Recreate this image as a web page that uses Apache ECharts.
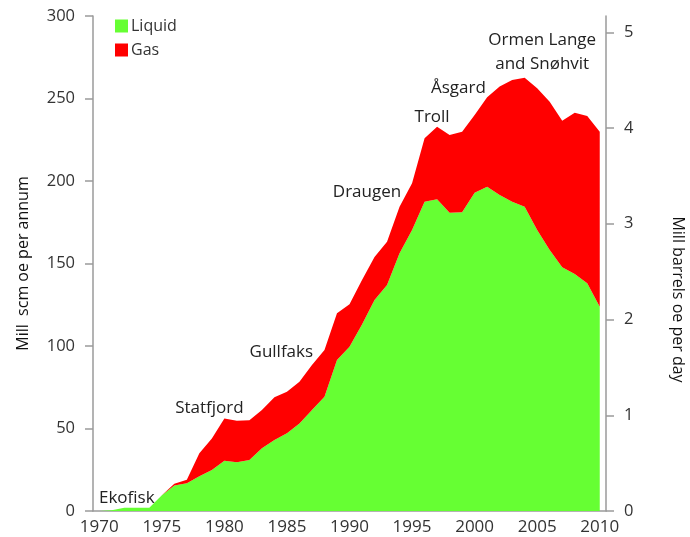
<!DOCTYPE html>
<html>
<head>
<meta charset="utf-8">
<script src="https://cdn.jsdelivr.net/npm/echarts@6/dist/echarts.min.js"></script>
<style>
  html, body { margin: 0; padding: 0; background: #fff; }
  #chart { width: 690px; height: 537px; }
</style>
</head>
<body>
<div id="chart"></div>
<script>
// production years
const years = [
  '1970', '1971', '1972', '1973', '1974', '1975', '1976', '1977', '1978', '1979',
  '1980', '1981', '1982', '1983', '1984', '1985', '1986', '1987', '1988', '1989',
  '1990', '1991', '1992', '1993', '1994', '1995', '1996', '1997', '1998', '1999',
  '2000', '2001', '2002', '2003', '2004', '2005', '2006', '2007', '2008', '2009',
  '2010'
];
// mill scm oe per annum
const liquid = [
  0, 0.4, 1.9, 1.9, 2.0, 9.5, 15.5, 16.8, 21.0, 24.8,
  30.5, 29.5, 30.9, 38.0, 43.0, 47.1, 53.1, 61.2, 69.3, 91.5,
  99.6, 113.0, 127.9, 137.0, 156.2, 170.3, 187.5, 188.9, 180.8, 181.0,
  192.9, 196.5, 191.5, 187.5, 184.4, 170.3, 158.2, 147.7, 143.6, 138.0,
  123.8
];
const gas = [
  0, 0, 0, 0, 0, 0, 1.0, 2.2, 14.0, 19.2,
  25.5, 25.2, 24.1, 23.2, 26.0, 25.2, 25.3, 27.3, 28.3, 28.3,
  25.7, 27.0, 26.1, 26.2, 28.2, 28.3, 38.4, 44.0, 47.1, 48.9,
  47.1, 54.2, 65.7, 73.7, 78.2, 85.9, 89.8, 88.8, 97.8, 101.4,
  106.1
];
const leftTicks = [0, 50, 100, 150, 200, 250, 300];
const rightTicks = [0, 1, 2, 3, 4, 5];
// field names placed at (year, value) in left axis units
const fieldNames = ['Ekofisk', 'Statfjord', 'Gullfaks', 'Draugen', 'Troll', 'Åsgard', 'Ormen Lange\nand Snøhvit'];
const fieldYears = [1972.2, 1978.8, 1984.55, 1991.4, 1996.6, 1998.7, 2005.4];
const fieldValues = [7.9, 62.4, 96.4, 193.3, 238.8, 256.4, 278];

const FONT = 'Open Sans';
const TXT = '#333';
const AXIS = '#9a9a9a';

let myChart = echarts.init(document.getElementById('chart'));

let option = {
  animation: false,
  color: ['#66ff33', '#ff0000'],
  textStyle: { fontFamily: FONT },
  grid: { left: 93, right: 84, top: 16, bottom: 26, containLabel: false, outerBoundsMode: 'none' },
  legend: {
    orient: 'vertical',
    left: 110,
    top: 13,
    itemWidth: 13,
    itemHeight: 13,
    itemGap: 8,
    icon: 'rect',
    textStyle: { fontFamily: FONT, fontSize: 16, color: TXT, padding: [0, 0, 0, -2] },
    data: ['Liquid', 'Gas']
  },
  xAxis: {
    type: 'category',
    data: years,
    boundaryGap: true,
    axisLine: { lineStyle: { color: AXIS, width: 1.5 } },
    axisTick: { interval: 4, length: 8, lineStyle: { color: AXIS, width: 1.5 } },
    axisLabel: { interval: 4, margin: 8, fontSize: 17, color: TXT, fontFamily: FONT },
    splitLine: { show: false }
  },
  yAxis: [
    {
      type: 'value',
      min: 0,
      max: 300,
      interval: 50,
      name: 'Mill  scm oe per annum',
      nameLocation: 'middle',
      nameRotate: 90,
      nameGap: 62,
      nameTextStyle: { fontSize: 16, color: '#111', fontFamily: FONT },
      axisLine: { show: true, lineStyle: { color: AXIS, width: 1.5 } },
      axisTick: { show: true, length: 8, customValues: leftTicks, lineStyle: { color: AXIS, width: 1.5 } },
      axisLabel: { margin: 18, fontSize: 16.5, color: TXT, fontFamily: FONT, customValues: leftTicks },
      splitLine: { show: false }
    },
    {
      type: 'value',
      min: 0,
      max: 5.17,
      interval: 1,
      position: 'right',
      name: 'Mill barrels oe per day',
      nameLocation: 'middle',
      nameRotate: -90,
      nameGap: 64,
      nameTextStyle: { fontSize: 16, color: '#111', fontFamily: FONT, padding: [0, 0, 0, 72] },
      axisLine: { show: true, lineStyle: { color: AXIS, width: 1.5 } },
      axisTick: { show: true, length: 8, customValues: rightTicks, lineStyle: { color: AXIS, width: 1.5 } },
      axisLabel: { margin: 18, fontSize: 16.5, color: TXT, fontFamily: FONT, customValues: rightTicks },
      splitLine: { show: false }
    }
  ],
  series: [
    {
      name: 'Liquid',
      type: 'line',
      stack: 'total',
      data: liquid,
      showSymbol: false,
      symbol: 'none',
      lineStyle: { width: 0 },
      areaStyle: { color: '#66ff33', opacity: 1 }
    },
    {
      name: 'Gas',
      type: 'line',
      stack: 'total',
      data: gas,
      showSymbol: false,
      symbol: 'none',
      lineStyle: { width: 0 },
      areaStyle: { color: '#ff0000', opacity: 1 }
    }
  ]
};
myChart.setOption(option);

// place the field names in data coordinates
function yearToPixel(yr) {
  let i0 = Math.floor(yr) - 1970;
  let frac = yr - Math.floor(yr);
  let p0 = myChart.convertToPixel({ xAxisIndex: 0 }, years[i0]);
  let p1 = myChart.convertToPixel({ xAxisIndex: 0 }, years[Math.min(i0 + 1, years.length - 1)]);
  return p0 + frac * (p1 - p0);
}
let labels = fieldNames.map((name, k) => ({
  type: 'text',
  x: yearToPixel(fieldYears[k]),
  y: myChart.convertToPixel({ yAxisIndex: 0 }, fieldValues[k]),
  z: 100,
  style: {
    text: name,
    fontFamily: FONT,
    fontSize: 17,
    lineHeight: 24,
    fill: '#222',
    align: 'center',
    verticalAlign: 'middle'
  }
}));
myChart.setOption({ graphic: labels });
</script>
</body>
</html>
